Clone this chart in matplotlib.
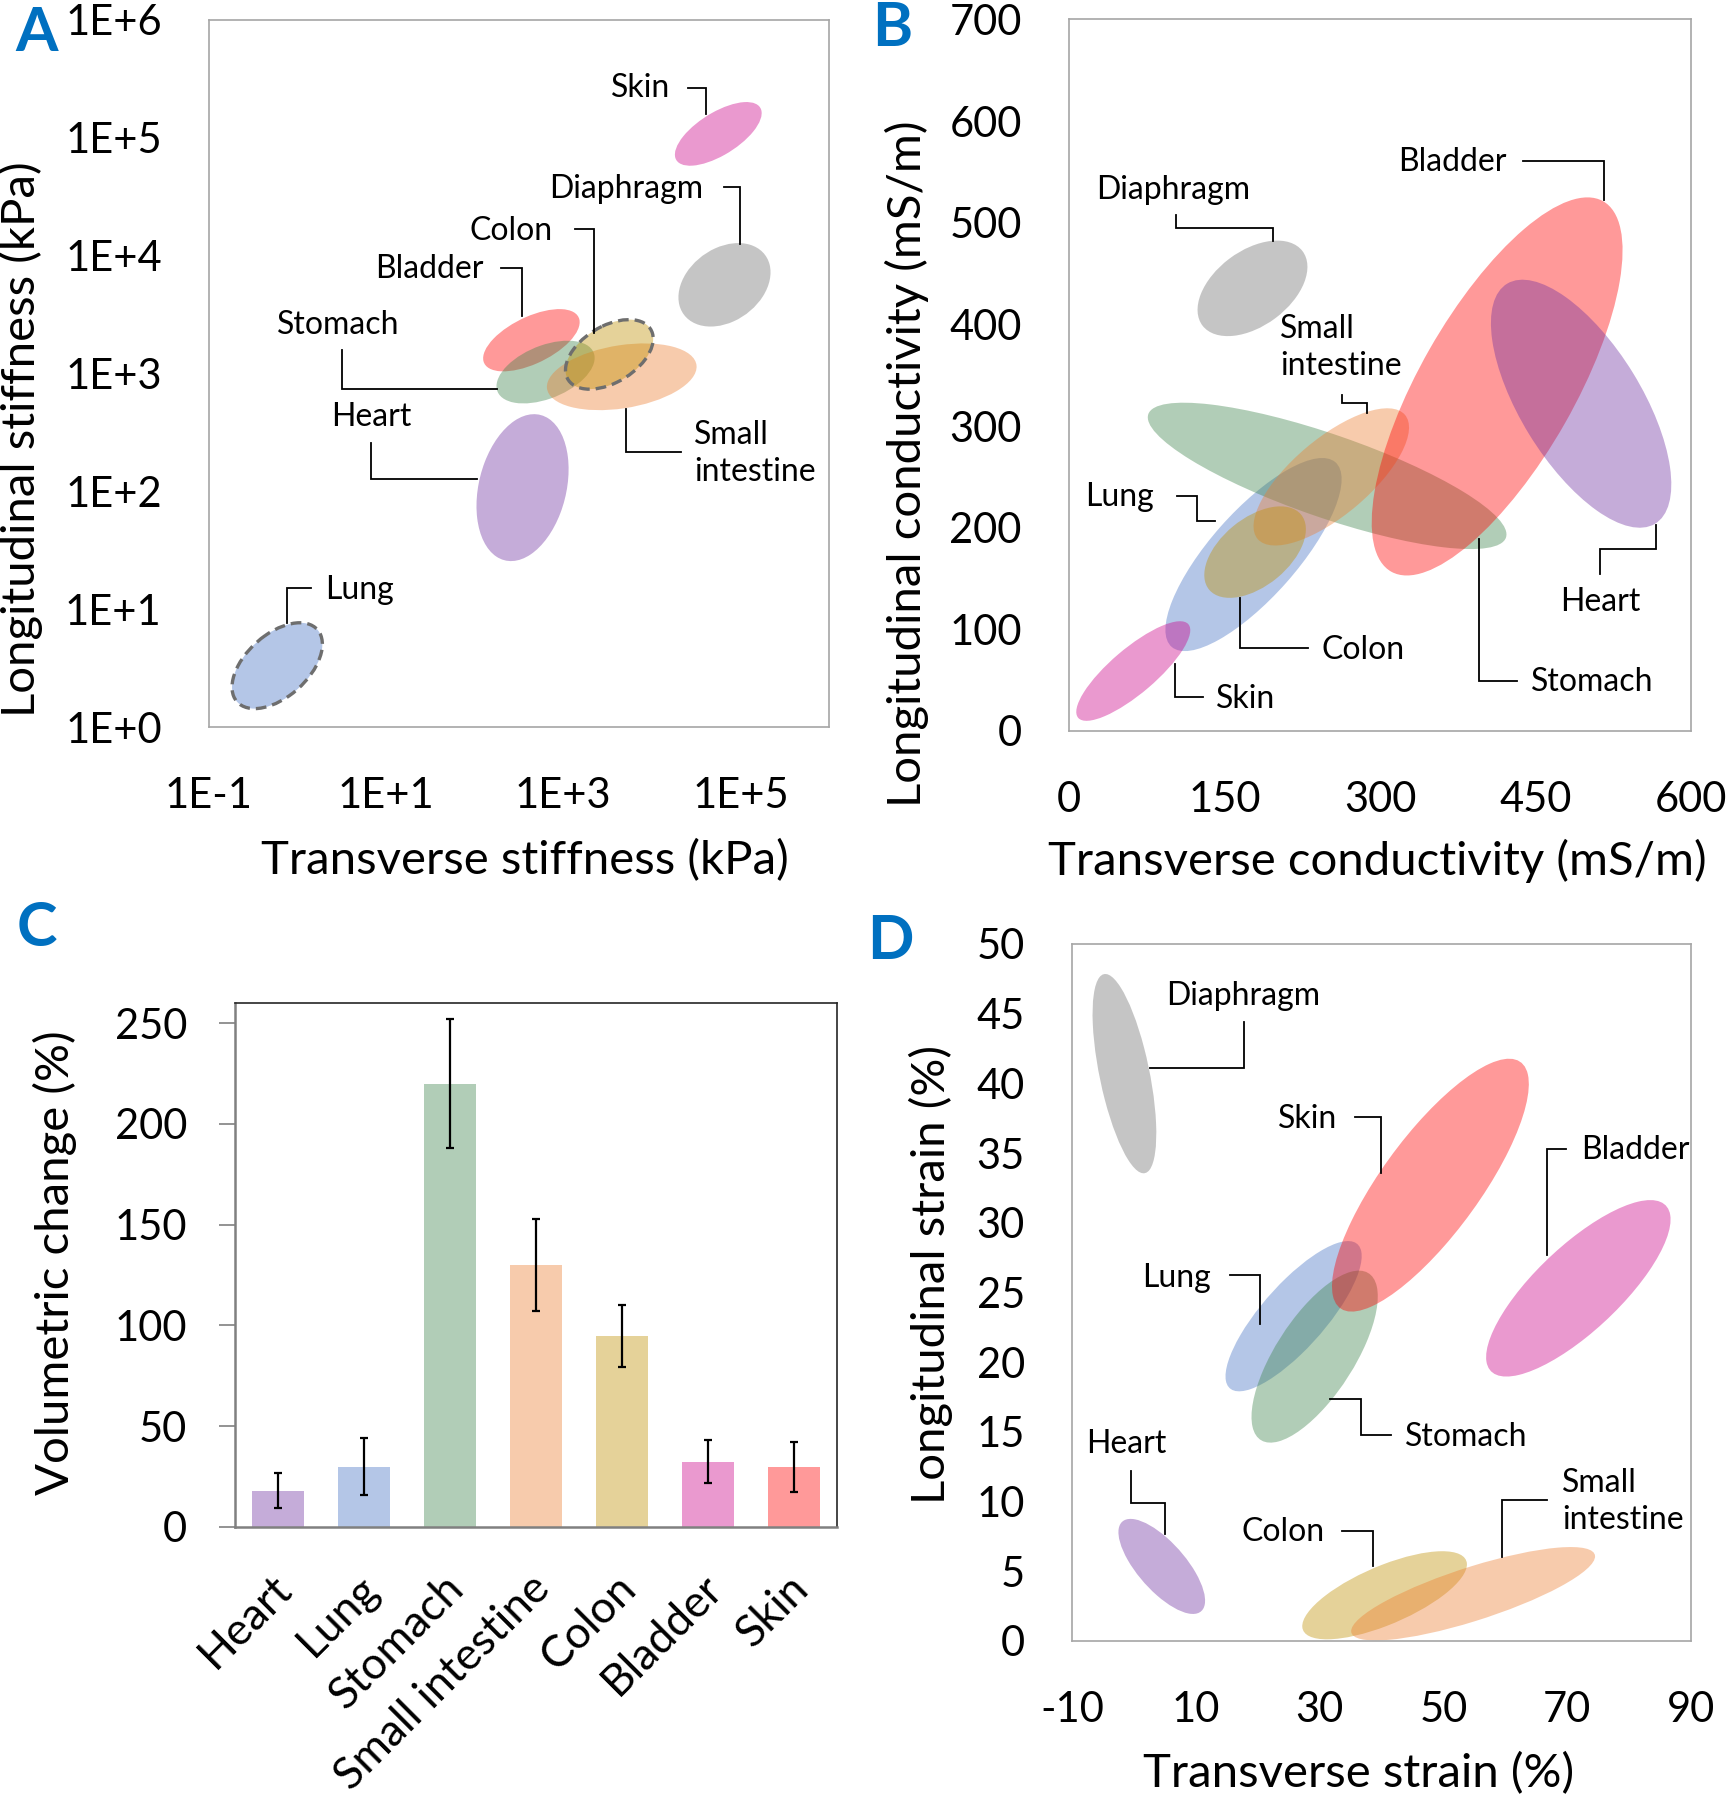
import numpy as np
import matplotlib
matplotlib.use('Agg')
import matplotlib.pyplot as plt
from matplotlib.patches import Ellipse
from matplotlib.transforms import ScaledTranslation

plt.rcParams['font.family'] = ['Lato', 'DejaVu Sans']
plt.rcParams['axes.unicode_minus'] = False

W, H = 1729, 1800

# Excel base colours, drawn at 60 % transparency
PURPLE = '#7030A0'
BLUE = '#4472C4'
GREEN = '#3E844B'
ORANGE = '#ED7D31'
GOLD = '#BF8F00'
PINK = '#CC0088'
RED = '#FF0000'
GRAY = '#707070'
ALPHA = 0.4

# ---- Panel A: stiffness (log10 kPa) ----
aNames = ['Skin', 'Diaphragm', 'Heart', 'Lung', 'Bladder', 'Stomach', 'Small intestine', 'Colon']
aColors = [PINK, GRAY, PURPLE, BLUE, RED, GREEN, ORANGE, GOLD]
aCx = [4.75, 4.82, 2.54, -0.23, 2.64, 2.80, 3.66, 3.52]
aCy = [5.03, 3.75, 2.03, 0.52, 3.28, 3.01, 2.97, 3.16]
aRx = [0.49, 0.52, 0.52, 0.51, 0.545, 0.554, 0.845, 0.495]
aRy = [0.27, 0.354, 0.623, 0.364, 0.264, 0.266, 0.283, 0.295]
aRho = [0.65, 0.3, 0.25, 0.5, 0.58, 0.45, 0.3, 0.45]
aDashed = ['Lung', 'Colon']
aXticks = [-1, 1, 3, 5]
aXlabels = ['1E-1', '1E+1', '1E+3', '1E+5']
aYticks = [0, 1, 2, 3, 4, 5, 6]
aYlabels = ['1E+0', '1E+1', '1E+2', '1E+3', '1E+4', '1E+5', '1E+6']

# ---- Panel B: conductivity (mS/m) ----
bNames = ['Diaphragm', 'Lung', 'Stomach', 'Small intestine', 'Colon', 'Skin', 'Bladder', 'Heart']
bColors = [GRAY, BLUE, GREEN, ORANGE, GOLD, PINK, RED, PURPLE]
bCx = [177, 178, 249, 253, 179.5, 62, 413, 494]
bCy = [435.5, 173.6, 251, 250, 176, 59, 339, 322]
bRx = [53, 85, 173, 75, 49, 55, 121, 87]
bRy = [47, 95, 72, 67.5, 45, 49, 186, 122]
bRho = [0.45, 0.78, -0.8, 0.72, 0.5, 0.82, 0.72, -0.65]

# ---- Panel C: volumetric change (%) ----
cNames = ['Heart', 'Lung', 'Stomach', 'Small intestine', 'Colon', 'Bladder', 'Skin']
cColors = [PURPLE, BLUE, GREEN, ORANGE, GOLD, PINK, RED]
cMean = [18, 30, 220, 130, 95, 32.5, 30]
cErr = [8.7, 14, 32, 22.6, 15.4, 10.6, 12.4]

# ---- Panel D: strain (%) ----
dNames = ['Diaphragm', 'Heart', 'Lung', 'Stomach', 'Skin', 'Bladder', 'Colon', 'Small intestine']
dColors = [GRAY, PURPLE, BLUE, GREEN, RED, PINK, GOLD, ORANGE]
dCx = [-1.53, 4.5, 25.8, 29.2, 47.9, 71.8, 40.5, 54.8]
dCy = [40.7, 5.35, 23.3, 20.4, 32.7, 25.3, 3.28, 3.39]
dRx = [5.15, 7.0, 11.0, 10.2, 15.9, 14.9, 13.3, 19.7]
dRy = [7.15, 3.41, 5.39, 6.17, 9.07, 6.33, 3.16, 3.35]
dRho = [-0.6, -0.72, 0.8, 0.7, 0.8, 0.78, 0.7, 0.8]

# callout labels: text, x, y, ha, leader xs, leader ys
aCallouts = [
    ('Skin', 4.21, 5.42, 'right', [4.41, 4.61, 4.61], [5.42, 5.42, 5.195]),
    ('Diaphragm', 4.585, 4.56, 'right', [4.81, 4.99, 4.99], [4.58, 4.58, 4.10]),
    ('Colon', 2.876, 4.21, 'right', [3.13, 3.347, 3.347], [4.22, 4.22, 3.34]),
    ('Bladder', 2.096, 3.88, 'right', [2.294, 2.529, 2.529], [3.896, 3.896, 3.482]),
    ('Stomach', 0.461, 3.41, 'center', [0.498, 0.498, 2.251], [3.197, 2.864, 2.864]),
    ('Heart', 0.827, 2.63, 'center', [0.833, 0.833, 2.028], [2.412, 2.103, 2.103]),
    ('Small\nintestine', 4.48, 2.32, 'left', [3.706, 3.706, 4.331], [2.697, 2.331, 2.331]),
    ('Lung', 0.307, 1.16, 'left', [0.152, -0.121, -0.121], [1.175, 1.175, 0.88]),
]
bCallouts = [
    ('Diaphragm', 100.7, 532, 'center', [103.4, 103.4, 196.6, 196.6], [507.2, 494.5, 494.5, 482.4]),
    ('Bladder', 422, 559.5, 'right', [437.9, 516.2, 516.2], [561.2, 561.2, 522.6]),
    ('Small\nintestine', 203.5, 377, 'left', [263.2, 263.2, 287.7, 287.7], [330.8, 322.5, 322.5, 312.6]),
    ('Lung', 82, 229.9, 'right', [104.4, 123.1, 123.1, 140.7], [231.5, 231.5, 206.7, 206.7]),
    ('Heart', 512.5, 126.8, 'center', [512.5, 512.5, 565.8, 565.8], [154.4, 179.2, 179.2, 202.9]),
    ('Colon', 244, 79.9, 'left', [164.6, 164.6, 230.2], [130.6, 81.6, 81.6]),
    ('Stomach', 445.4, 48, 'left', [395.3, 395.3, 432.1], [189.1, 49.6, 49.6]),
    ('Skin', 141.7, 31.4, 'left', [102.3, 102.3, 128.9], [66.2, 33.1, 33.1]),
]
dCallouts = [
    ('Diaphragm', 5.14, 46.3, 'left', [17.78, 17.78, 2.54], [44.4, 41.08, 41.08]),
    ('Skin', 32.92, 37.46, 'right', [35.7, 39.91, 39.91], [37.58, 37.58, 33.59]),
    ('Bladder', 72.17, 35.19, 'left', [69.75, 66.79, 66.79], [35.27, 35.27, 27.69]),
    ('Lung', 12.49, 26.01, 'right', [15.45, 20.38, 20.38], [26.22, 26.22, 22.77]),
    ('Stomach', 43.85, 14.65, 'left', [31.67, 36.69, 36.69, 41.52], [17.34, 17.34, 14.81, 14.81]),
    ('Heart', -1.22, 14.1, 'center', [-0.5, -0.5, 4.96, 4.96], [12.2, 9.93, 9.93, 7.70]),
    ('Colon', 30.77, 7.79, 'right', [33.64, 38.66, 38.66], [7.91, 7.91, 5.39]),
    ('Small\nintestine', 69.12, 10.02, 'left', [66.79, 59.44, 59.44], [10.1, 10.1, 6.02]),
]

TICK_FS = 30
LABEL_FS = 34
CALLOUT_FS = 23
SPINE = '#A6A6A6'


def covEllipse(cx, cy, rx, ry, rho, **kw):
    """Ellipse with half-extents rx, ry and x/y correlation rho."""
    cov = np.array([[rx * rx, rho * rx * ry], [rho * rx * ry, ry * ry]])
    vals, vecs = np.linalg.eigh(cov)
    angle = np.degrees(np.arctan2(vecs[1, 1], vecs[0, 1]))
    return Ellipse((cx, cy), 2 * np.sqrt(vals[1]), 2 * np.sqrt(vals[0]), angle=angle, **kw)


def addAxes(left, top, right, bottom):
    return fig.add_axes([left / W, 1 - bottom / H, (right - left) / W, (bottom - top) / H])


def figText(x, y, s, **kw):
    fig.text(x / W, 1 - y / H, s, **kw)


def styleScatter(ax):
    for sp in ax.spines.values():
        sp.set_color(SPINE)
        sp.set_linewidth(1.2)
    ax.tick_params(length=0, labelsize=TICK_FS)
    ax.tick_params(axis='x', pad=36)
    ax.tick_params(axis='y', pad=34)


def drawEllipses(ax, names, colors, cx, cy, rx, ry, rho, dashed=()):
    for i in range(len(names)):
        ax.add_patch(covEllipse(cx[i], cy[i], rx[i], ry[i], rho[i],
                                facecolor=colors[i], alpha=ALPHA, edgecolor='none'))
    for i in range(len(names)):
        if names[i] in dashed:
            ax.add_patch(covEllipse(cx[i], cy[i], rx[i], ry[i], rho[i], facecolor='none',
                                    edgecolor='#6E6E6E', linewidth=2.4,
                                    linestyle=(0, (3.2, 1.8))))


def drawCallouts(ax, callouts):
    for text, tx, ty, ha, lx, ly in callouts:
        ax.text(tx, ty, text, ha=ha, va='center', fontsize=CALLOUT_FS, linespacing=1.3)
        ax.plot(lx, ly, color='black', lw=1.3, solid_joinstyle='miter', clip_on=False)


fig = plt.figure(figsize=(W / 100, H / 100), dpi=100)

# Panel A
axA = addAxes(209, 19.5, 829, 727)
drawEllipses(axA, aNames, aColors, aCx, aCy, aRx, aRy, aRho, aDashed)
drawCallouts(axA, aCallouts)
axA.set_xlim(-1, 6)
axA.set_ylim(0, 6)
axA.set_xticks(aXticks, aXlabels)
axA.set_yticks(aYticks, aYlabels)
styleScatter(axA)

# Panel B
axB = addAxes(1069, 19.5, 1691, 731)
drawEllipses(axB, bNames, bColors, bCx, bCy, bRx, bRy, bRho)
drawCallouts(axB, bCallouts)
axB.set_xlim(0, 600)
axB.set_ylim(0, 700)
axB.set_xticks(range(0, 601, 150))
axB.set_yticks(range(0, 701, 100))
styleScatter(axB)

# Panel C
axC = addAxes(235, 1003, 837, 1527)
xpos = np.arange(len(cNames))
axC.bar(xpos, cMean, width=0.6, color=cColors, alpha=ALPHA)
axC.errorbar(xpos, cMean, yerr=cErr, fmt='none', ecolor='black', elinewidth=1.6,
             capsize=3, capthick=1.6)
axC.set_xlim(-0.5, len(cNames) - 0.5)
axC.set_ylim(0, 260)
axC.set_yticks(range(0, 251, 50))
axC.set_xticks(xpos, cNames, rotation=45, ha='right', va='top', rotation_mode='anchor')
axC.tick_params(axis='y', length=11.5, width=1.2, color='#808080', labelsize=TICK_FS, pad=23)
axC.tick_params(axis='x', length=0, labelsize=32, pad=29)
shift = ScaledTranslation(-0.07, 0, fig.dpi_scale_trans)
for lbl in axC.get_xticklabels():
    lbl.set_transform(lbl.get_transform() + shift)
for side in ['left', 'bottom']:
    axC.spines[side].set_color('#808080')
    axC.spines[side].set_linewidth(1.8)
for side in ['top', 'right']:
    axC.spines[side].set_color('#262626')
    axC.spines[side].set_linewidth(1.2)

# Panel D
axD = addAxes(1072, 944, 1691, 1641)
drawEllipses(axD, dNames, dColors, dCx, dCy, dRx, dRy, dRho)
drawCallouts(axD, dCallouts)
axD.set_xlim(-10, 90)
axD.set_ylim(0, 50)
axD.set_xticks(range(-10, 91, 20))
axD.set_yticks(range(0, 51, 5))
styleScatter(axD)

# axis titles
figText(525, 861, 'Transverse stiffness (kPa)', ha='center', va='center', fontsize=LABEL_FS)
figText(21, 439, 'Longitudinal stiffness (kPa)', ha='center', va='center', fontsize=LABEL_FS, rotation=90)
figText(1377, 861, 'Transverse conductivity (mS/m)', ha='center', va='center', fontsize=LABEL_FS)
figText(907, 464, 'Longitudinal conductivity (mS/m)', ha='center', va='center', fontsize=LABEL_FS, rotation=90)
figText(55, 1263, 'Volumetric change (%)', ha='center', va='center', fontsize=LABEL_FS, rotation=90)
figText(1359, 1774, 'Transverse strain (%)', ha='center', va='center', fontsize=LABEL_FS)
figText(931, 1274, 'Longitudinal strain (%)', ha='center', va='center', fontsize=LABEL_FS, rotation=90)

# panel letters
for letter, x, y in [('A', 37, 33), ('B', 892, 28), ('C', 37, 928), ('D', 890, 941)]:
    figText(x, y, letter, ha='center', va='center', fontsize=44, fontweight='bold', color='#0070C0')

fig.savefig('out.png', dpi=100)
